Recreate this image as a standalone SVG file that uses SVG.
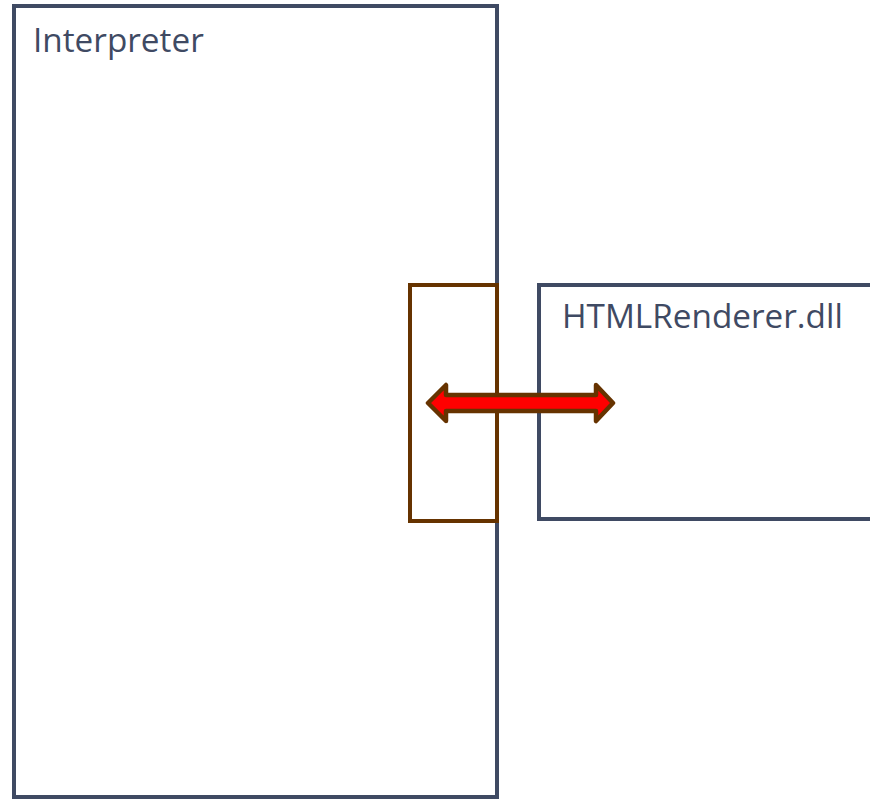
<svg xmlns="http://www.w3.org/2000/svg" width="870" height="800" viewBox="0 0 870 800">
<style>
.box{fill:#ffffff;stroke:#3f4a63;stroke-width:4}
.port{fill:none;stroke:#663300;stroke-width:4}
.lbl{font-family:"Open Sans","Noto Sans",sans-serif;font-size:33.3px;fill:#3f4a63}
</style>
<rect width="870" height="800" fill="#ffffff"/>
<g id="interpreter">
<rect class="box" x="14" y="6" width="483" height="791"/>
<text class="lbl" x="33" y="52">Interpreter</text>
</g>
<g id="htmlrenderer">
<rect class="box" x="539" y="285" width="340" height="234"/>
<text class="lbl" x="562" y="328">HTMLRenderer.dll</text>
</g>
<g id="port">
<rect class="port" x="410" y="285" width="87" height="236"/>
</g>
<g id="connectors">
<polygon points="428,403 446,385 446,395 596,395 596,385 613,403 596,421 596,411 446,411 446,421" fill="#ff0000" stroke="#663300" stroke-width="4.5" stroke-linejoin="round"/>
</g>
</svg>
